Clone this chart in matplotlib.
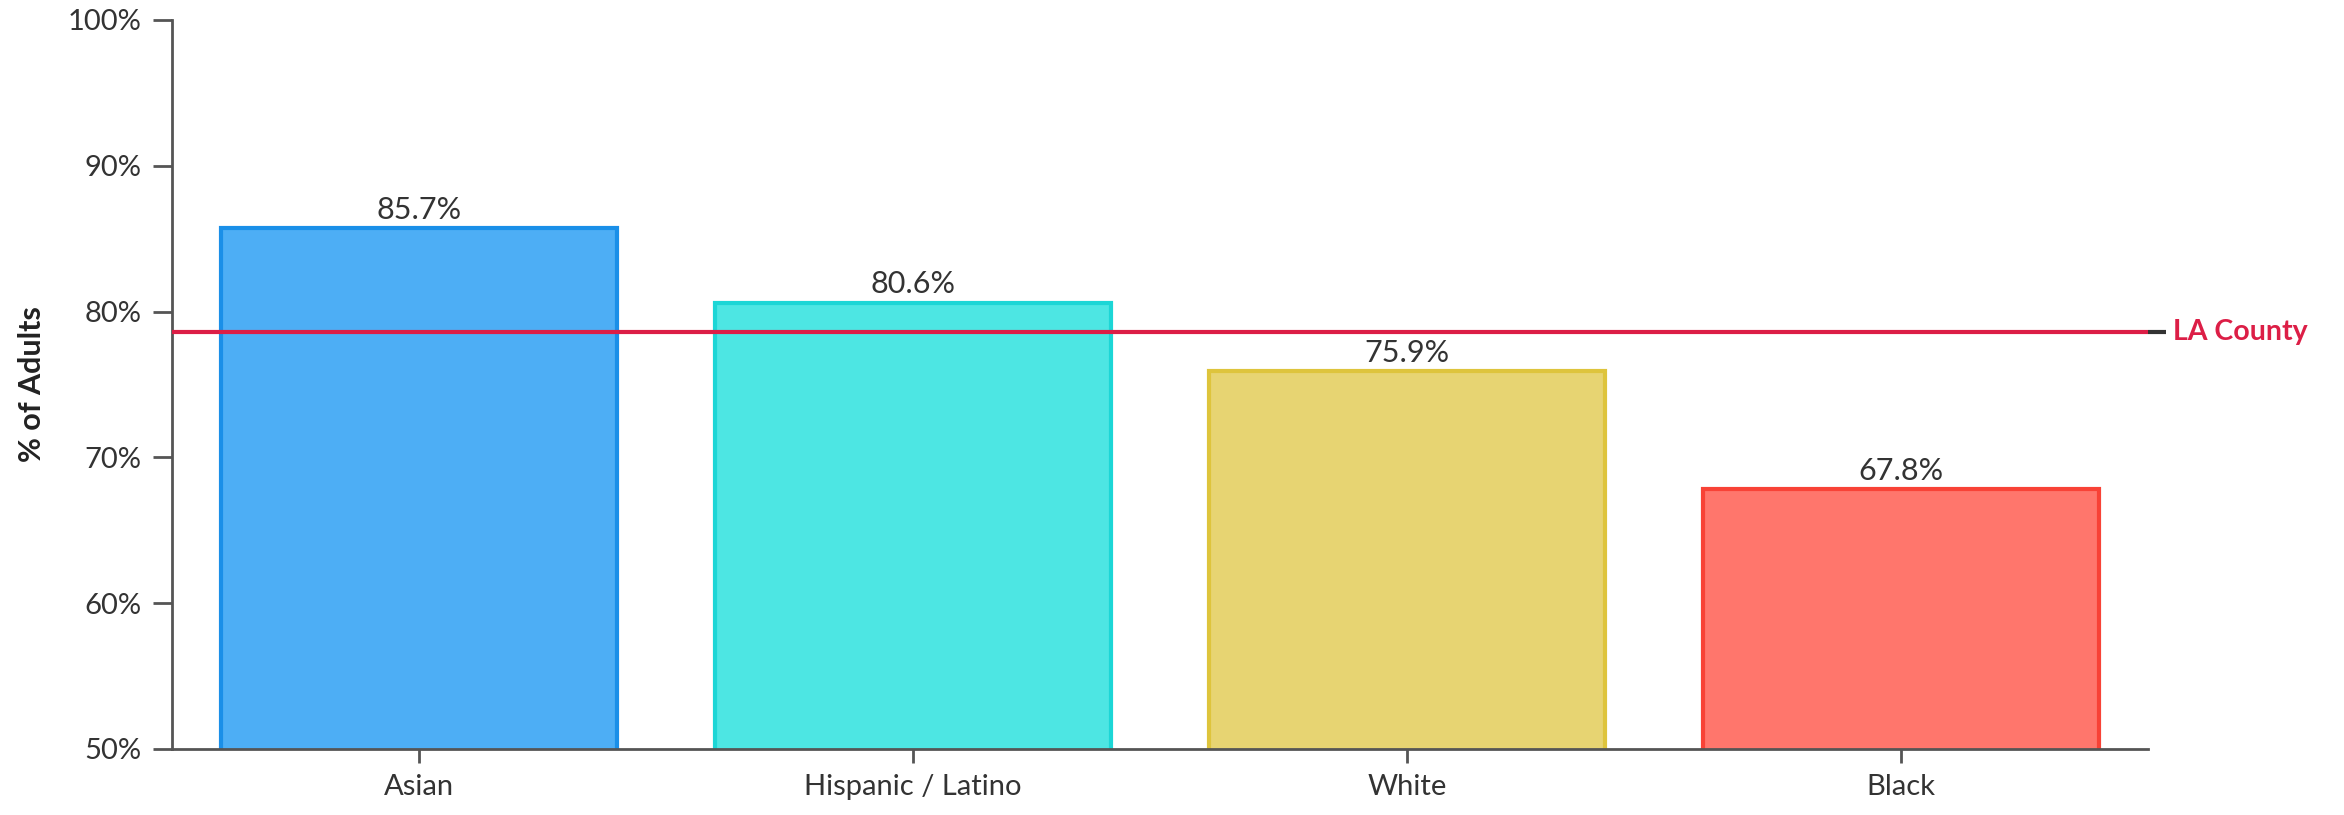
import matplotlib.pyplot as plt

# data
groups = ["Asian", "Hispanic / Latino", "White", "Black"]
pct_adults = [85.7, 80.6, 75.9, 67.8]
la_county = 78.6
y_ticks = [50, 60, 70, 80, 90, 100]

fills = ["#4DAEF5", "#4DE6E3", "#E7D472", "#FF766C"]
edges = ["#1A8FE8", "#1CD6D6", "#DEC43C", "#F84236"]

plt.rcParams['font.family'] = ['Lato', 'DejaVu Sans']

fig = plt.figure(figsize=(23.44, 8.15), dpi=100)
ax = fig.add_axes([0.0734, 0.081, 0.843, 0.8945])

x = range(len(groups))
bars = ax.bar(x, pct_adults, width=0.8, bottom=0, color=fills,
              edgecolor=edges, linewidth=3, zorder=2)

for i, v in enumerate(pct_adults):
    ax.text(i, v + 0.3, f"{v}%", ha="center", va="bottom",
            fontsize=22, color="#333333")

ax.axhline(la_county, color="#DC1E46", linewidth=3, zorder=3)
ax.text(3.55, la_county, "LA County", color="#DC1E46", fontsize=20.5,
        fontweight="bold", ha="left", va="center", clip_on=False)

ax.set_xlim(-0.5, 3.5)
ax.set_ylim(50, 100)
ax.set_yticks(y_ticks)
ax.set_yticklabels([f"{t}%" for t in y_ticks])
ax.set_xticks(list(x))
ax.set_xticklabels(groups)

for s in ["top", "right"]:
    ax.spines[s].set_visible(False)
for s in ["left", "bottom"]:
    ax.spines[s].set_color("#555555")
    ax.spines[s].set_linewidth(2)

ax.tick_params(axis="y", length=14, width=2, color="#555555",
               labelsize=21, labelcolor="#333333", pad=8)
ax.tick_params(axis="x", length=10, width=2, color="#555555",
               labelsize=21, labelcolor="#333333", pad=8)

# small tick at the right end marking the LA County value
ax2 = ax.twinx()
ax2.set_ylim(ax.get_ylim())
ax2.set_yticks([la_county])
ax2.set_yticklabels([""])
ax2.tick_params(axis="y", length=13, width=3, color="#333333")
for s in ax2.spines.values():
    s.set_visible(False)

ax.set_ylabel("% of Adults", fontsize=22, fontweight="bold",
              color="#222222")
ax.yaxis.set_label_coords(-0.064, 0.5)

fig.savefig("out.png", dpi=100)
